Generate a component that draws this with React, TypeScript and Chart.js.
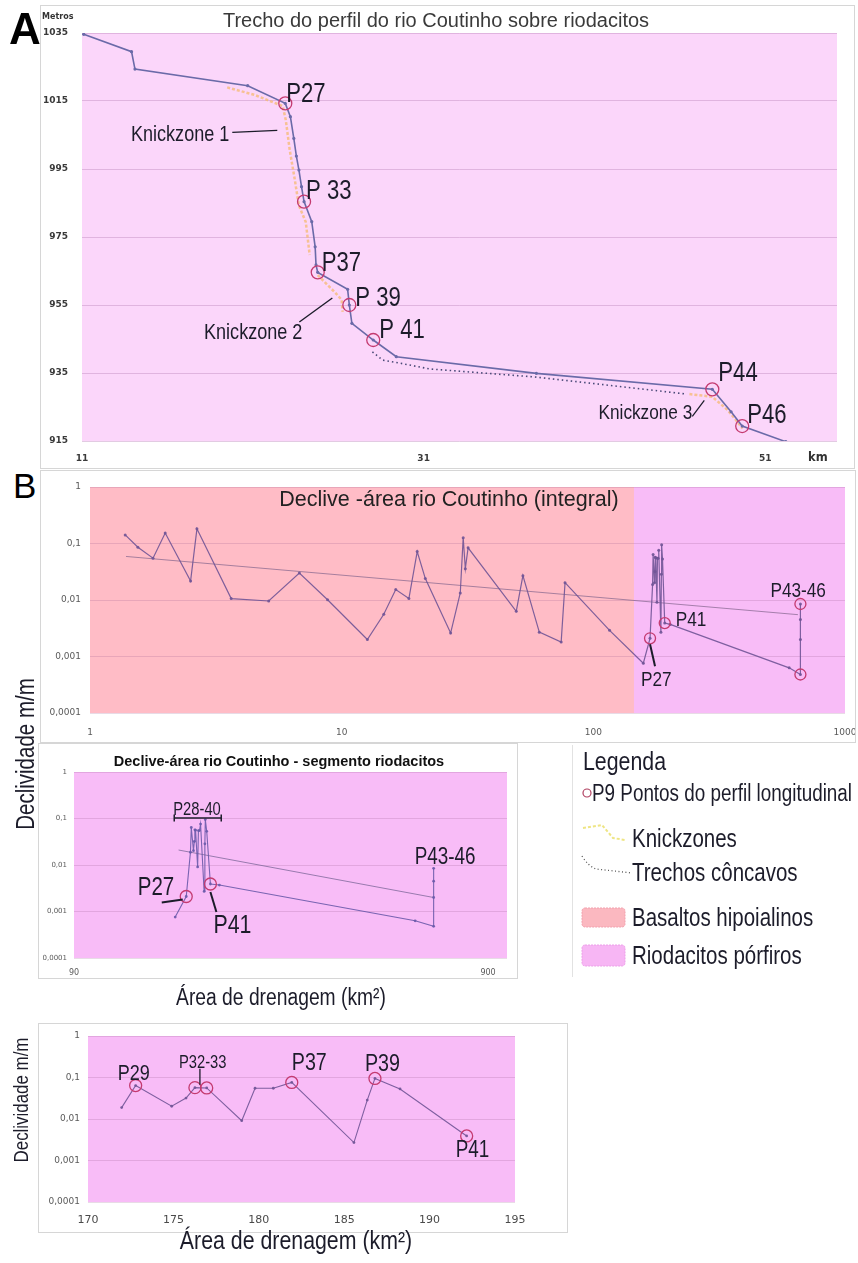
import React, { useEffect, useRef } from 'react';
import { Chart, registerables } from 'chart.js';
Chart.register(...registerables);

// ---------- Panel A: longitudinal profile (km, metres) ----------
const profileKm = [11.1, 13.9, 14.1, 20.7, 22.9, 23.2, 23.4, 23.55, 23.7, 23.85, 24.0, 24.45, 24.65, 24.7, 24.8, 26.55, 26.65, 26.8, 28.05, 29.4, 37.6, 47.9, 49.0, 49.65, 52.2];
const profileM = [1034.6, 1029.5, 1024.4, 1019.5, 1014.3, 1010.4, 1004.0, 998.8, 994.7, 989.8, 985.4, 979.5, 972.1, 966.8, 964.6, 959.6, 955.0, 949.6, 944.7, 939.8, 934.9, 930.2, 923.6, 919.4, 914.8];
const profileCircleIdx = [4, 10, 14, 16, 18, 21, 23];
const knick1Km = [19.5, 21.1, 22.75, 22.93, 23.16, 23.46, 23.69, 24.1, 24.33];
const knick1M = [1019.0, 1016.8, 1013.5, 1009.4, 1000.6, 991.8, 984.4, 979.4, 969.7];
const knick2Km = [24.8, 25.85, 26.2, 26.26];
const knick2M = [963.8, 958.5, 956.5, 953.0];
const knick3Km = [46.56, 47.9, 48.8, 49.28, 49.67];
const knick3M = [928.8, 928.0, 924.1, 921.2, 918.7];
const concaveKm = [28.0, 28.6, 29.6, 31.35, 37.6, 46.4];
const concaveM = [941.2, 938.8, 937.9, 936.2, 933.8, 928.8];
const profileTicksX = [11, 31, 51];
const profileTicksY = [915, 935, 955, 975, 995, 1015, 1035];

// ---------- Panel B: slope-area (km², m/m) ----------
const basaltArea = [1.38, 1.55, 1.78, 1.99, 2.51, 2.66, 3.64, 5.13, 6.79, 8.79, 12.65, 14.7, 16.4, 18.5, 19.96, 21.5, 27.1, 29.6, 30.4, 31.0, 31.8, 49.4, 52.5, 61, 74.5, 77.2, 116, 158];
const basaltSlope = [0.142, 0.086, 0.055, 0.153, 0.0217, 0.182, 0.0106, 0.0096, 0.030, 0.0101, 0.0020, 0.0056, 0.0153, 0.0106, 0.072, 0.0239, 0.0026, 0.0133, 0.126, 0.0359, 0.084, 0.0063, 0.027, 0.0027, 0.0018, 0.0203, 0.0029, 0.00076];
const p27Area = [168];
const p27Slope = [0.0021];
const detailArea = [171.97, 172.79, 174.9, 175.74, 176.26, 176.95, 179.0, 179.78, 180.85, 181.93, 185.57, 186.35, 186.8, 188.27, 192.17];
const detailSlope = [0.0188, 0.064, 0.0203, 0.032, 0.057, 0.056, 0.0091, 0.055, 0.055, 0.076, 0.0027, 0.0286, 0.095, 0.053, 0.0039];
const tailArea = [202, 600, 665, 665, 665, 665];
const tailSlope = [0.0037, 0.00063, 0.00048, 0.002, 0.0045, 0.0085];
const trendAllArea = [1.39, 650];
const trendAllSlope = [0.059, 0.0055];
const trendSegArea = [161, 665];
const trendSegSlope = [0.021, 0.002];
const detailCircleIdx = [1, 4, 5, 9, 12, 14];
const basaltLimitArea = 145;
const slopeTicks = [0.0001, 0.001, 0.01, 0.1, 1];
const slopeTickLabels = ['0,0001', '0,001', '0,01', '0,1', '1'];
const areaTicksAll = [1, 10, 100, 1000];
const areaTicksSeg = [90, 900];
const areaTicksDetail = [170, 175, 180, 185, 190, 195];

// ---------- styles ----------
const SANS = '"Liberation Sans", Arial, sans-serif';
const DEJAVU = '"DejaVu Sans", sans-serif';
const NARROW_K = 0.82;
const CIRCLE = 'rgb(196,58,112)';
const TEXT = '#1c1c2a';
const PINK_A = '#fbd6fa';
const PINK_B = '#f8bcf7';
const SALMON = '#ffbcc6';
const GRID = 'rgba(150,90,140,0.22)';

const pts = (xs: number[], ys: number[]) => xs.map((x, i) => ({ x, y: ys[i] }));

function makeBg(color: string, bands: { from: number; to: number; color: string }[] = []) {
  return {
    id: 'bgFill',
    beforeDraw(chart: any) {
      const { ctx, chartArea: a, scales } = chart;
      if (!a) return;
      ctx.save();
      ctx.fillStyle = color;
      ctx.fillRect(a.left, a.top, a.right - a.left, a.bottom - a.top);
      bands.forEach((b) => {
        const x1 = Math.max(a.left, scales.x.getPixelForValue(b.from));
        const x2 = Math.min(a.right, scales.x.getPixelForValue(b.to));
        ctx.fillStyle = b.color;
        ctx.fillRect(x1, a.top, x2 - x1, a.bottom - a.top);
      });
      ctx.restore();
    },
  };
}

type Note = { ds: number; i: number; text?: string; dx?: number; dy?: number; size?: number; align?: string; lines?: number[][] };
function makeNotes(items: Note[]) {
  return {
    id: 'notes',
    afterDatasetsDraw(chart: any) {
      const ctx = chart.ctx;
      items.forEach((it) => {
        const meta = chart.getDatasetMeta(it.ds);
        const el = meta.data[it.i < 0 ? meta.data.length + it.i : it.i];
        if (!el) return;
        const px = el.x, py = el.y;
        ctx.save();
        ctx.fillStyle = TEXT;
        ctx.strokeStyle = TEXT;
        (it.lines || []).forEach((l) => {
          ctx.lineWidth = l[4] || 1.3;
          ctx.beginPath();
          ctx.moveTo(px + l[0], py + l[1]);
          ctx.lineTo(px + l[2], py + l[3]);
          ctx.stroke();
        });
        if (it.text) {
          ctx.translate(px + (it.dx || 0), py + (it.dy || 0));
          ctx.scale(NARROW_K, 1);
          ctx.font = `${it.size || 24}px ${SANS}`;
          ctx.textAlign = it.align || 'left';
          ctx.textBaseline = 'alphabetic';
          ctx.fillText(it.text, 0, 0);
        }
        ctx.restore();
      });
    },
  };
}

const circleDs = (data: any[], r: number) => ({
  data, showLine: false, pointRadius: r, pointHoverRadius: r,
  pointBorderColor: CIRCLE, pointBorderWidth: 1.3, pointBackgroundColor: 'rgba(0,0,0,0)',
});
const lineDs = (data: any[], color: string, width: number, pr: number, dash: number[] = []) => ({
  data, showLine: true, borderColor: color, borderWidth: width, pointRadius: pr, pointHoverRadius: pr,
  pointBackgroundColor: color, pointBorderWidth: 0, borderDash: dash, tension: 0,
});

const baseOptions = (padding: any, scales: any) => ({
  responsive: false, animation: false, devicePixelRatio: 1,
  layout: { padding: { left: 0, bottom: 0, ...padding } },
  plugins: { legend: { display: false }, tooltip: { enabled: false } },
  events: [],
  scales,
});

const noPad = (s: any) => { s.paddingLeft = 0; s.paddingRight = 0; s.paddingTop = 0; s.paddingBottom = 0; };

const xAxis = (type: string, min: number, max: number, ticks: number[], h: number, pad: number, font: any, color: string) => ({
  type, min, max,
  afterBuildTicks: (s: any) => { s.ticks = ticks.map((v) => ({ value: v })); },
  afterFit: (s: any) => { s.height = h; noPad(s); },
  ticks: { callback: (_v: any, i: number) => String(ticks[i]), font, color, padding: pad, autoSkip: false, maxRotation: 0 },
  grid: { display: false, drawTicks: false },
  border: { display: false },
});
const logY = (w: number, pad: number, font: any) => ({
  type: 'logarithmic', min: 0.0001, max: 1,
  afterBuildTicks: (s: any) => { s.ticks = slopeTicks.map((v) => ({ value: v })); },
  afterFit: (s: any) => { s.width = w; noPad(s); },
  ticks: { callback: (_v: any, i: number) => slopeTickLabels[i], font, color: '#5a5a5a', padding: pad, autoSkip: false },
  grid: { color: GRID, drawTicks: false },
  border: { display: false },
});

function makeProfile() {
  const circles = profileCircleIdx.map((i) => ({ x: profileKm[i], y: profileM[i] }));
  const notes: Note[] = [
    { ds: 0, i: 0, text: 'P27', dx: 1, dy: -1, size: 27 },
    { ds: 0, i: 0, text: 'Knickzone 1', dx: -56, dy: 38, size: 22, align: 'right', lines: [[-53, 29, -8, 27, 1.4]] },
    { ds: 0, i: 1, text: 'P 33', dx: 2, dy: -3, size: 27 },
    { ds: 0, i: 2, text: 'P37', dx: 4, dy: -1, size: 27 },
    { ds: 0, i: 3, text: 'P 39', dx: 6, dy: 1, size: 27 },
    { ds: 0, i: 3, text: 'Knickzone 2', dx: -47, dy: 34, size: 22, align: 'right', lines: [[-50, 17, -17, -7, 1.4]] },
    { ds: 0, i: 4, text: 'P 41', dx: 6, dy: -2, size: 27 },
    { ds: 0, i: 5, text: 'P44', dx: 6, dy: -8, size: 27 },
    { ds: 0, i: 5, text: 'Knickzone 3', dx: -20, dy: 30, size: 21, align: 'right', lines: [[-20, 27, -8, 11, 1.2]] },
    { ds: 0, i: 6, text: 'P46', dx: 5, dy: -3, size: 27 },
  ];
  const tickFont = { family: DEJAVU, size: 9, weight: 'bold' };
  return {
    type: 'scatter',
    data: {
      datasets: [
        circleDs(circles, 6.5),
        lineDs(pts(profileKm, profileM), '#6a6aa8', 1.6, 1.6),
        lineDs(pts(knick1Km, knick1M), 'rgba(246,186,112,0.75)', 2.5, 0, [3, 2]),
        lineDs(pts(knick2Km, knick2M), 'rgba(246,186,112,0.75)', 2.5, 0, [3, 2]),
        lineDs(pts(knick3Km, knick3M), 'rgba(246,186,112,0.75)', 2.5, 0, [3, 2]),
        lineDs(pts(concaveKm, concaveM), '#4a4a78', 1.6, 0, [1.5, 3]),
      ],
    },
    options: baseOptions({ top: 28, right: 18 }, {
      x: xAxis('linear', 11, 55.2, profileTicksX, 27, 12, tickFont, '#3a3a3a'),
      y: {
        type: 'linear', min: 915, max: 1035,
        afterBuildTicks: (s: any) => { s.ticks = profileTicksY.map((v) => ({ value: v })); },
        afterFit: (s: any) => { s.width = 42; noPad(s); },
        ticks: { callback: (_v: any, i: number) => String(profileTicksY[i]), font: tickFont, color: '#3a3a3a', padding: 14, autoSkip: false },
        grid: { color: 'rgba(190,140,190,0.45)', drawTicks: false },
        border: { display: false },
      },
    }),
    plugins: [makeBg(PINK_A), makeNotes(notes)],
  };
}

function makeAll() {
  const area = [...basaltArea, ...p27Area, ...detailArea, ...tailArea];
  const slope = [...basaltSlope, ...p27Slope, ...detailSlope, ...tailSlope];
  const circles = [
    { x: p27Area[0], y: p27Slope[0] },
    { x: detailArea[14], y: detailSlope[14] },
    { x: tailArea[2], y: tailSlope[2] },
    { x: tailArea[5], y: tailSlope[5] },
  ];
  const notes: Note[] = [
    { ds: 0, i: 0, text: 'P27', dx: -9, dy: 48, size: 21, lines: [[0, 6, 5, 28, 2]] },
    { ds: 0, i: 1, text: 'P41', dx: 11, dy: 3, size: 21 },
    { ds: 0, i: 3, text: 'P43-46', dx: -30, dy: -7, size: 21 },
  ];
  return {
    type: 'scatter',
    data: {
      datasets: [
        circleDs(circles, 5.5),
        lineDs(pts(area, slope), 'rgba(112,84,150,0.9)', 1.2, 1.5),
        lineDs(pts(trendAllArea, trendAllSlope), 'rgba(130,100,140,0.7)', 1, 0),
      ],
    },
    options: baseOptions({ top: 17, right: 13 }, {
      x: xAxis('logarithmic', 1, 1000, areaTicksAll, 27, 14, { family: DEJAVU, size: 9 }, '#5a5a5a'),
      y: logY(50, 9, { family: DEJAVU, size: 9 }),
    }),
    plugins: [makeBg(PINK_B, [{ from: 1, to: basaltLimitArea, color: SALMON }]), makeNotes(notes)],
  };
}

function makeSeg() {
  const area = [basaltArea[basaltArea.length - 1], ...p27Area, ...detailArea, ...tailArea];
  const slope = [basaltSlope[basaltSlope.length - 1], ...p27Slope, ...detailSlope, ...tailSlope];
  const circles = [
    { x: p27Area[0], y: p27Slope[0] },
    { x: detailArea[14], y: detailSlope[14] },
  ];
  const notes: Note[] = [
    { ds: 0, i: 0, text: 'P27', dx: -12, dy: -1.5, size: 25, align: 'right', lines: [[-24.5, 6, -3.5, 3, 2]] },
    { ds: 0, i: 0, text: 'P28-40', dx: -13, dy: -81.5, size: 18, lines: [[-12, -78.5, 35, -78.5, 1.5], [-12, -82, -12, -75, 1.5], [35, -82, 35, -75, 1.5]] },
    { ds: 0, i: 1, text: 'P41', dx: 3, dy: 49, size: 26, lines: [[0, 8, 6, 28, 2]] },
    { ds: 1, i: -1, text: 'P43-46', dx: -19, dy: -4, size: 23 },
  ];
  return {
    type: 'scatter',
    data: {
      datasets: [
        circleDs(circles, 6),
        lineDs(pts(area, slope), 'rgba(106,90,170,0.9)', 1.1, 1.4),
        lineDs(pts(trendSegArea, trendSegSlope), 'rgba(120,100,150,0.75)', 1, 0),
      ],
    },
    options: baseOptions({ top: 29, right: 13 }, {
      x: xAxis('logarithmic', 90, 1000, areaTicksSeg, 20, 10, { family: DEJAVU, size: 8 }, '#5a5a5a'),
      y: logY(36, 7, { family: DEJAVU, size: 7 }),
    }),
    plugins: [makeBg(PINK_B), makeNotes(notes)],
  };
}

function makeDetail() {
  const circles = detailCircleIdx.map((i) => ({ x: detailArea[i], y: detailSlope[i] }));
  const notes: Note[] = [
    { ds: 0, i: 0, text: 'P29', dx: -18, dy: -6, size: 22 },
    { ds: 0, i: 1, text: 'P32-33', dx: -16, dy: -20, size: 18, lines: [[5, -19, 5, -3, 1.3]] },
    { ds: 0, i: 3, text: 'P37', dx: 0, dy: -12, size: 24 },
    { ds: 0, i: 4, text: 'P39', dx: -10, dy: -7, size: 24 },
    { ds: 0, i: 5, text: 'P41', dx: -11, dy: 21, size: 23 },
  ];
  return {
    type: 'scatter',
    data: {
      datasets: [
        circleDs(circles, 6),
        lineDs(pts(detailArea, detailSlope), 'rgba(112,84,150,0.9)', 1.1, 1.4),
      ],
    },
    options: baseOptions({ top: 13, right: 55 }, {
      x: xAxis('linear', 170, 195, areaTicksDetail, 30, 12, { family: DEJAVU, size: 11 }, '#4a4a4a'),
      y: logY(50, 8, { family: DEJAVU, size: 9 }),
    }),
    plugins: [makeBg(PINK_B), makeNotes(notes)],
  };
}

function ChartCanvas({ left, top, width, height, make }: any) {
  const ref = useRef<HTMLCanvasElement>(null);
  useEffect(() => {
    const c = new Chart(ref.current as HTMLCanvasElement, make());
    return () => c.destroy();
  }, []);
  return <canvas ref={ref} width={width} height={height} style={{ position: 'absolute', left, top, width, height }} />;
}

function Txt({ x, y, size, family = SANS, weight = 'normal', color = TEXT, center = false, rotate = false, narrow = true, children }: any) {
  const k = narrow ? NARROW_K : 1;
  const transform = center
    ? `translate(-50%, -50%)${rotate ? ' rotate(-90deg)' : ''} scaleX(${k})`
    : `translateY(-50%) scaleX(${k})`;
  return (
    <div style={{
      position: 'absolute', left: x, top: y, fontSize: size, fontFamily: family, fontWeight: weight, color,
      lineHeight: 1, whiteSpace: 'nowrap', transform, transformOrigin: center ? '50% 50%' : '0 50%',
    }}>{children}</div>
  );
}

function Box({ x, y, w, h }: any) {
  return <div style={{ position: 'absolute', left: x, top: y, width: w, height: h, border: '1px solid #d6d6d6', boxSizing: 'border-box', pointerEvents: 'none' }} />;
}

export default function App() {
  return (
    <div style={{ position: 'absolute', left: 0, top: 0, width: 858, height: 1263, background: '#fff', overflow: 'hidden' }}>
      <ChartCanvas left={40} top={5} width={815} height={463} make={makeProfile} />
      <ChartCanvas left={40} top={470} width={818} height={270} make={makeAll} />
      <ChartCanvas left={38} top={743} width={482} height={235} make={makeSeg} />
      <ChartCanvas left={38} top={1023} width={532} height={209} make={makeDetail} />

      <Box x={40} y={5} w={815} h={464} />
      <Box x={40} y={470} w={816} h={273} />
      <Box x={38} y={743} w={480} h={236} />
      <Box x={38} y={1023} w={530} h={210} />
      <div style={{ position: 'absolute', left: 572, top: 745, width: 1, height: 232, background: '#e2e2e2' }} />

      <Txt x={9} y={29} size={44} weight="bold" color="#000" narrow={false}>A</Txt>
      <Txt x={13} y={485} size={35} color="#000" narrow={false}>B</Txt>
      <Txt x={42} y={17} size={8} family={DEJAVU} weight="bold" color="#333" narrow={false}>Metros</Txt>
      <Txt x={436} y={20} size={20} color="#3a3a3a" center narrow={false}>Trecho do perfil do rio Coutinho sobre riodacitos</Txt>
      <Txt x={808} y={458} size={11.5} family={DEJAVU} weight="bold" color="#333" narrow={false}>km</Txt>
      <Txt x={449} y={500} size={21.5} color="#222" center narrow={false}>Declive -área rio Coutinho (integral)</Txt>
      <Txt x={279} y={761} size={14.5} weight="bold" color="#111" center narrow={false}>Declive-área rio Coutinho - segmento riodacitos</Txt>

      <Txt x={25} y={754} size={25} center rotate>Declividade m/m</Txt>
      <Txt x={281} y={998} size={23.5} center>Área de drenagem (km²)</Txt>
      <Txt x={21} y={1100} size={20.6} center rotate>Declividade m/m</Txt>
      <Txt x={296} y={1240} size={26} center>Área de drenagem (km²)</Txt>

      <svg width={858} height={1263} style={{ position: 'absolute', left: 0, top: 0, pointerEvents: 'none' }}>
        <circle cx={587} cy={793} r={4} fill="none" stroke="#b04060" strokeWidth={1.2} />
        <path d="M583 828 L602 825 L613 838 L625 840" fill="none" stroke="#eee584" strokeWidth={2} strokeDasharray="3 2" />
        <path d="M582 856 Q588 866 596 869 L632 873" fill="none" stroke="#555" strokeWidth={1.3} strokeDasharray="1 2.5" />
        <rect x={582} y={908} width={43} height={19} fill="#fbb8c0" stroke="#f2a0ad" strokeDasharray="2 1" rx={3} />
        <rect x={582} y={945} width={43} height={21} fill="#f7b6f4" stroke="#ec9ee8" strokeDasharray="2 1" rx={3} />
      </svg>
      <Txt x={583} y={761} size={26}>Legenda</Txt>
      <Txt x={592} y={793} size={23}>P9 Pontos do perfil longitudinal</Txt>
      <Txt x={632} y={838} size={25}>Knickzones</Txt>
      <Txt x={632} y={872} size={25}>Trechos côncavos</Txt>
      <Txt x={632} y={917} size={25}>Basaltos hipoialinos</Txt>
      <Txt x={632} y={955} size={25}>Riodacitos pórfiros</Txt>
    </div>
  );
}
